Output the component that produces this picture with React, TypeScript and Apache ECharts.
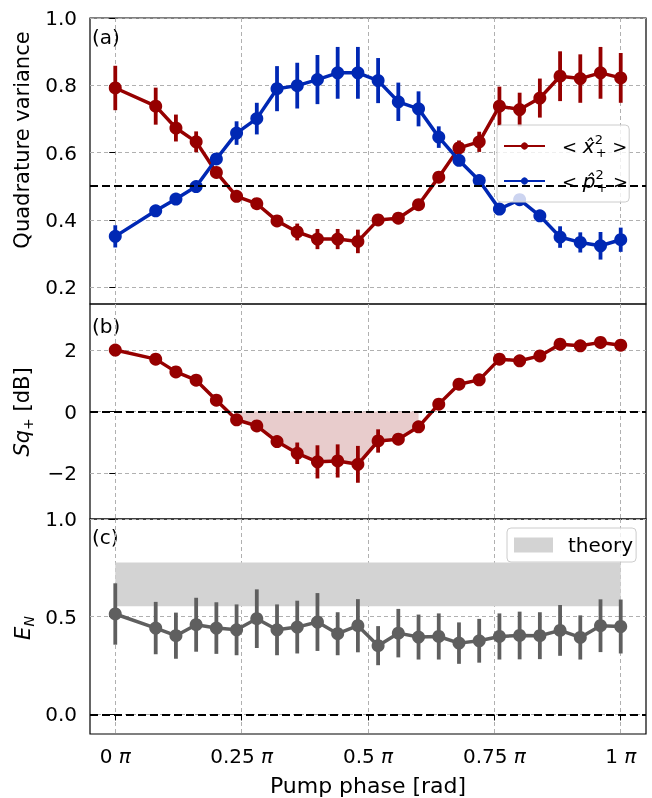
import React, { useEffect, useRef } from "react";
import * as echarts from "echarts";

// ---------- data ----------
const phase = [0, 0.08, 0.12, 0.16, 0.2, 0.24, 0.28, 0.32, 0.36, 0.4, 0.44, 0.48, 0.52, 0.56, 0.6, 0.64, 0.68, 0.72, 0.76, 0.8, 0.84, 0.88, 0.92, 0.96, 1.0];

const xVar = [0.792, 0.738, 0.673, 0.632, 0.541, 0.47, 0.448, 0.397, 0.364, 0.343, 0.343, 0.336, 0.4, 0.405, 0.445, 0.527, 0.614, 0.632, 0.738, 0.728, 0.762, 0.827, 0.82, 0.837, 0.822];
const xVarErr = [0.066, 0.055, 0.04, 0.031, 0.012, 0.01, 0.01, 0.015, 0.025, 0.03, 0.03, 0.035, 0.015, 0.012, 0.01, 0.01, 0.022, 0.03, 0.058, 0.05, 0.058, 0.074, 0.072, 0.077, 0.074];

const pVar = [0.351, 0.427, 0.462, 0.499, 0.581, 0.658, 0.701, 0.79, 0.799, 0.817, 0.837, 0.837, 0.814, 0.751, 0.73, 0.646, 0.577, 0.517, 0.432, 0.46, 0.412, 0.349, 0.333, 0.323, 0.341];
const pVarErr = [0.033, 0.01, 0.01, 0.01, 0.015, 0.035, 0.047, 0.067, 0.068, 0.073, 0.077, 0.077, 0.067, 0.057, 0.052, 0.032, 0.015, 0.01, 0.01, 0.01, 0.01, 0.032, 0.03, 0.041, 0.036];

const sq = [2.0, 1.705, 1.29, 1.02, 0.37, -0.27, -0.47, -0.98, -1.36, -1.64, -1.61, -1.72, -0.96, -0.9, -0.5, 0.24, 0.89, 1.03, 1.705, 1.65, 1.81, 2.19, 2.14, 2.25, 2.16];
const sqErr = [0.15, 0.12, 0.1, 0.1, 0.05, 0.05, 0.05, 0.1, 0.35, 0.54, 0.54, 0.6, 0.38, 0.1, 0.06, 0.04, 0.04, 0.1, 0.15, 0.12, 0.15, 0.18, 0.17, 0.18, 0.18];

const en = [0.514, 0.442, 0.403, 0.459, 0.442, 0.433, 0.49, 0.433, 0.447, 0.473, 0.413, 0.454, 0.352, 0.416, 0.396, 0.399, 0.365, 0.377, 0.399, 0.404, 0.403, 0.43, 0.394, 0.454, 0.45];
const enErr = [0.157, 0.134, 0.118, 0.138, 0.132, 0.13, 0.15, 0.13, 0.135, 0.148, 0.11, 0.136, 0.1, 0.124, 0.115, 0.118, 0.106, 0.112, 0.118, 0.122, 0.12, 0.13, 0.113, 0.135, 0.138];

const theoryPhase = [0, 1];
const theoryBand = [0.553, 0.778];

const refLineA = 0.5;
const refLineB = 0;
const refLineC = 0;

const xTickValues = [0, 0.25, 0.5, 0.75, 1];
const xTickLabels = ["0 π", "0.25 π", "0.5 π", "0.75 π", "1 π"];
const yTicksA = [0.2, 0.4, 0.6, 0.8, 1.0];
const yTicksB = [-2, 0, 2];
const yTicksC = [0.0, 0.5, 1.0];

// ---------- styles ----------
const RED = "#960000";
const BLUE = "#0028b4";
const GRAY = "#5f5f5f";
const FILL = "#e8cccc";
const THEORY = "#d3d3d3";
const FONT = "DejaVu Sans";
const TICK_FS = 20;
const LABEL_FS = 21;

const gridLine = { show: true, lineStyle: { color: "#b0b0b0", type: [4, 3], width: 1 } };

function xAxisFor(i: number, showLabels: boolean) {
  return {
    type: "value",
    gridIndex: i,
    min: -0.05,
    max: 1.05,
    axisLine: { show: false },
    axisTick: { show: showLabels, customValues: xTickValues, length: 6, lineStyle: { color: "#000", width: 1 } },
    axisLabel: {
      show: showLabels,
      customValues: xTickValues,
      margin: 12,
      fontSize: TICK_FS,
      fontFamily: FONT,
      color: "#000",
      formatter: (v: number) => {
        const idx = xTickValues.findIndex((t) => Math.abs(t - v) < 1e-9);
        const s = idx >= 0 ? xTickLabels[idx] : "";
        return s.replace("π", "{i|π}");
      },
      rich: { i: { fontStyle: "italic", fontSize: TICK_FS, fontFamily: FONT, color: "#000" } },
    },
    splitLine: gridLine,
    ...(showLabels
      ? {
          name: "Pump phase [rad]",
          nameLocation: "middle",
          nameGap: 40,
          nameTextStyle: { fontSize: 22, fontFamily: FONT, color: "#000" },
        }
      : {}),
  };
}

function yAxisFor(i: number, min: number, max: number, ticks: number[], fmt: (v: number) => string) {
  return {
    type: "value",
    gridIndex: i,
    min,
    max,
    axisLine: { show: false },
    axisTick: { show: true, customValues: ticks, length: 6, lineStyle: { color: "#000", width: 1 } },
    axisLabel: { customValues: ticks, margin: 13, fontSize: TICK_FS, fontFamily: FONT, color: "#000", formatter: fmt },
    splitLine: gridLine,
  };
}

function errSeries(axis: number, ys: number[], errs: number[], color: string) {
  return {
    type: "custom",
    xAxisIndex: axis,
    yAxisIndex: axis,
    silent: true,
    z: 2,
    data: phase.map((x, i) => [x, ys[i], errs[i]]),
    encode: { x: 0, y: 1 },
    renderItem: (_p: any, api: any) => {
      const x = api.value(0);
      const y = api.value(1);
      const e = api.value(2);
      const a = api.coord([x, y - e]);
      const b = api.coord([x, y + e]);
      return {
        type: "line",
        shape: { x1: a[0], y1: a[1], x2: b[0], y2: b[1] },
        style: { stroke: color, lineWidth: 3.8 },
      };
    },
  };
}

function refLine(value: number) {
  return {
    symbol: "none",
    silent: true,
    label: { show: false },
    lineStyle: { color: "#000", type: [8, 4], width: 2 },
    data: [{ yAxis: value }],
  };
}

function lineSeries(name: string, axis: number, ys: number[], color: string, ref?: number) {
  return {
    type: "line",
    name,
    xAxisIndex: axis,
    yAxisIndex: axis,
    data: phase.map((x, i) => [x, ys[i]]),
    symbol: "circle",
    symbolSize: 13,
    showSymbol: true,
    lineStyle: { width: 3.5, color },
    itemStyle: { color },
    z: 3,
    ...(ref !== undefined ? { markLine: refLine(ref) } : {}),
  };
}

export default function App() {
  const ref = useRef<HTMLDivElement>(null);

  useEffect(() => {
    if (!ref.current) return;
    const chart = echarts.init(ref.current, undefined, { renderer: "svg" });
    const legendRich = {
      g: { width: 12, fontSize: 20, lineHeight: 26 },
      t: { fontSize: 18, fontFamily: FONT, color: "#000", lineHeight: 26 },
      i: { fontSize: 20, fontFamily: FONT, fontStyle: "italic", color: "#000", lineHeight: 26 },
      sp: { width: 1, fontSize: 13, fontFamily: FONT, color: "#000", verticalAlign: "top", lineHeight: 14 },
      sb: { fontSize: 13, fontFamily: FONT, color: "#000", verticalAlign: "bottom", lineHeight: 14 },
    };
    const option: any = {
      animation: false,
      textStyle: { fontFamily: FONT },
      grid: [
        { left: 90, right: 6, top: 18, height: 286, show: true, borderColor: "#000", borderWidth: 1.2 },
        { left: 90, right: 6, top: 304, height: 215, show: true, borderColor: "#000", borderWidth: 1.2 },
        { left: 90, right: 6, top: 519, height: 215, show: true, borderColor: "#000", borderWidth: 1.2 },
      ],
      xAxis: [xAxisFor(0, false), xAxisFor(1, false), xAxisFor(2, true)],
      yAxis: [
        yAxisFor(0, 0.15, 1.0, yTicksA, (v) => v.toFixed(1)),
        yAxisFor(1, -3.5, 3.5, yTicksB, (v) => (v < 0 ? "\u2212" + Math.abs(v) : String(v))),
        yAxisFor(2, -0.1, 1.0, yTicksC, (v) => v.toFixed(1)),
      ],
      legend: [
        {
          data: ["x", "p"],
          orient: "vertical",
          left: 497,
          top: 125,
          itemWidth: 41,
          itemHeight: 9,
          itemGap: 9,
          padding: [8, 1, 8, 6],
          backgroundColor: "rgba(255,255,255,0.8)",
          borderColor: "#cccccc",
          borderWidth: 1,
          borderRadius: 4,
          textStyle: { rich: legendRich },
          formatter: (name: string) =>
            name === "x"
              ? "{g| }{t|< }{i|x\u0302}{sp|2}{sb|+}{t| >}"
              : "{g| }{t|< }{i|p\u0302}{sp|2}{sb|+}{t| >}",
        },
        {
          data: [{ name: "theory", icon: "rect" }],
          left: 507,
          top: 528,
          itemWidth: 39,
          itemHeight: 15,
          padding: [7, 3, 7, 7],
          backgroundColor: "rgba(255,255,255,0.8)",
          borderColor: "#cccccc",
          borderWidth: 1,
          borderRadius: 4,
          itemStyle: { color: THEORY },
          formatter: () => "{g| }{t|theory}",
          textStyle: {
            rich: {
              g: { width: 10, fontSize: 20 },
              t: { fontSize: 20, fontFamily: FONT, color: "#000" },
            },
          },
        },
      ],
      series: [
        // panel (a)
        errSeries(0, xVar, xVarErr, RED),
        lineSeries("x", 0, xVar, RED, refLineA),
        errSeries(0, pVar, pVarErr, BLUE),
        lineSeries("p", 0, pVar, BLUE),
        // panel (b)
        {
          type: "line",
          name: "sqFill",
          xAxisIndex: 1,
          yAxisIndex: 1,
          data: phase.map((x, i) => (sq[i] < 0 ? [x, sq[i]] : [x, null])),
          connectNulls: false,
          showSymbol: false,
          symbol: "none",
          lineStyle: { width: 0, opacity: 0 },
          areaStyle: { color: FILL, opacity: 1, origin: 0 },
          z: 1,
          silent: true,
        },
        errSeries(1, sq, sqErr, RED),
        lineSeries("sq", 1, sq, RED, refLineB),
        // panel (c)
        {
          type: "custom",
          name: "theory",
          xAxisIndex: 2,
          yAxisIndex: 2,
          silent: true,
          z: 1,
          itemStyle: { color: THEORY },
          data: [[theoryPhase[0], theoryPhase[1], theoryBand[0], theoryBand[1]]],
          encode: { x: [0, 1], y: [2, 3] },
          renderItem: (_p: any, api: any) => {
            const a = api.coord([api.value(0), api.value(3)]);
            const b = api.coord([api.value(1), api.value(2)]);
            return {
              type: "rect",
              shape: { x: a[0], y: a[1], width: b[0] - a[0], height: b[1] - a[1] },
              style: { fill: THEORY },
            };
          },
        },
        errSeries(2, en, enErr, GRAY),
        lineSeries("en", 2, en, GRAY, refLineC),
      ],
      graphic: [
        { type: "text", left: 92, top: 27, style: { text: "(a)", fontSize: 20, fontFamily: FONT, fill: "#000" } },
        { type: "text", left: 92, top: 316, style: { text: "(b)", fontSize: 20, fontFamily: FONT, fill: "#000" } },
        { type: "text", left: 92, top: 527, style: { text: "(c)", fontSize: 20, fontFamily: FONT, fill: "#000" } },
        {
          type: "text",
          x: 22,
          y: 140,
          rotation: Math.PI / 2,
          style: { text: "Quadrature variance", fontSize: LABEL_FS, fontFamily: FONT, fill: "#000", align: "center", verticalAlign: "middle" },
        },
        {
          type: "text",
          x: 22,
          y: 412,
          rotation: Math.PI / 2,
          style: {
            text: "{i|Sq}{sb|+}{t| [dB]}",
            align: "center",
            verticalAlign: "middle",
            rich: {
              i: { fontSize: LABEL_FS, fontFamily: FONT, fontStyle: "italic", fill: "#000", lineHeight: 26 },
              t: { fontSize: LABEL_FS, fontFamily: FONT, fill: "#000", lineHeight: 26 },
              sb: { fontSize: 14, fontFamily: FONT, fill: "#000", verticalAlign: "bottom", lineHeight: 16 },
            },
          },
        },
        {
          type: "text",
          x: 23,
          y: 628,
          rotation: Math.PI / 2,
          style: {
            text: "{i|E}{sb|N}",
            align: "center",
            verticalAlign: "middle",
            rich: {
              i: { fontSize: LABEL_FS, fontFamily: FONT, fontStyle: "italic", fill: "#000", lineHeight: 26 },
              sb: { fontSize: 14, fontFamily: FONT, fontStyle: "italic", fill: "#000", verticalAlign: "bottom", lineHeight: 16 },
            },
          },
        },
      ],
    };
    chart.setOption(option);
    return () => chart.dispose();
  }, []);

  return <div ref={ref} style={{ position: "fixed", left: 0, top: 0, width: 652, height: 798 }} />;
}
